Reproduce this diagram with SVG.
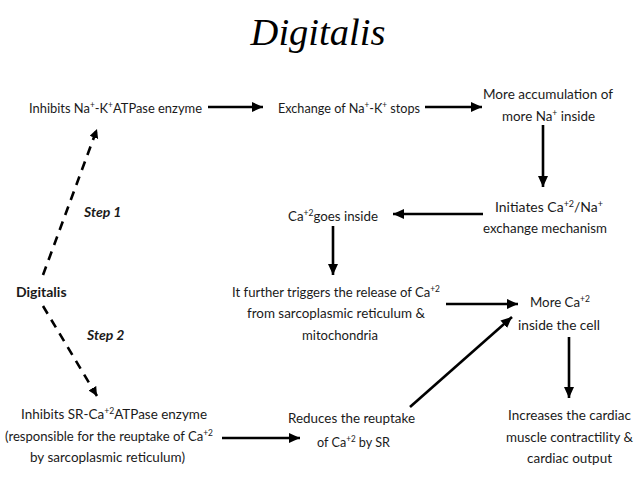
<svg xmlns="http://www.w3.org/2000/svg" width="638" height="479" viewBox="0 0 638 479">
<defs>
<style>
.t{font-family:Lato,"Open Sans","Liberation Sans",sans-serif;font-size:14px;fill:#1a1a1a}
.c{text-anchor:middle}
.s{font-size:9px}
.ln{stroke:#000;stroke-width:2.6;fill:none}
.ds{stroke:#000;stroke-width:2.6;fill:none;stroke-dasharray:9 7}
</style>
<marker id="ah" markerUnits="userSpaceOnUse" markerWidth="12" markerHeight="10" refX="11" refY="5" orient="auto"><path d="M0,0 L11,5 L0,10 Z" fill="#000"/></marker>
<marker id="ahs" markerUnits="userSpaceOnUse" markerWidth="10" markerHeight="10" refX="9" refY="4.5" orient="auto"><path d="M0,0 L9,4.5 L0,9 Z" fill="#000"/></marker>
</defs>
<rect width="638" height="479" fill="#fff"/>
<text x="318" y="45" text-anchor="middle" font-family="Liberation Serif,serif" font-style="italic" font-size="38.5" fill="#000">Digitalis</text>

<g id="connectors">
<path class="ln" d="M208,107 H263" marker-end="url(#ah)"/>
<path class="ln" d="M425,107 H482" marker-end="url(#ah)"/>
<path class="ln" d="M543,125 V187" marker-end="url(#ah)"/>
<path class="ln" d="M483,214 H393" marker-end="url(#ah)"/>
<path class="ln" d="M333,226 V275" marker-end="url(#ah)"/>
<path class="ln" d="M446,304 H518" marker-end="url(#ah)"/>
<path class="ln" d="M569,337 V398" marker-end="url(#ah)"/>
<path class="ln" d="M410,407 L512,317" marker-end="url(#ah)"/>
<path class="ln" d="M222,438 H300" marker-end="url(#ah)"/>
<path class="ds" d="M43,275 L97,129" marker-end="url(#ahs)"/>
<path class="ds" d="M43,306 L97,396" marker-end="url(#ahs)"/>
</g>

<g id="n-digitalis"><text x="16" y="297" class="t" font-weight="bold" font-size="17">Digitalis</text></g>
<g id="l-step1"><text x="84" y="217" class="t" font-weight="bold" font-style="italic" font-size="13">Step 1</text></g>
<g id="l-step2"><text x="87" y="340" class="t" font-weight="bold" font-style="italic" font-size="13">Step 2</text></g>

<g id="n-inhibits-nak"><text x="29" y="113" class="t" textLength="173" lengthAdjust="spacingAndGlyphs">Inhibits Na<tspan class="s" dy="-5">+</tspan><tspan dy="5">-K</tspan><tspan class="s" dy="-5">+</tspan><tspan dy="5">ATPase enzyme</tspan></text></g>
<g id="n-exchange"><text x="278" y="113" class="t" textLength="142" lengthAdjust="spacingAndGlyphs">Exchange of Na<tspan class="s" dy="-5">+</tspan><tspan dy="5">-K</tspan><tspan class="s" dy="-5">+</tspan><tspan dy="5"> stops</tspan></text></g>
<g id="n-accum">
<text x="548" y="99" class="t c" textLength="130" lengthAdjust="spacingAndGlyphs">More accumulation of</text>
<text x="548.5" y="121" class="t c" textLength="93" lengthAdjust="spacingAndGlyphs">more Na<tspan class="s" dy="-5">+</tspan><tspan dy="5"> inside</tspan></text>
</g>
<g id="n-initiates">
<text x="549" y="212" class="t c" textLength="108" lengthAdjust="spacingAndGlyphs">Initiates Ca<tspan class="s" dy="-5">+2</tspan><tspan dy="5">/Na</tspan><tspan class="s" dy="-5">+</tspan></text>
<text x="545" y="233" class="t c" textLength="124" lengthAdjust="spacingAndGlyphs">exchange mechanism</text>
</g>
<g id="n-ca-inside"><text x="333" y="221" class="t c" textLength="90" lengthAdjust="spacingAndGlyphs">Ca<tspan class="s" dy="-5">+2</tspan><tspan dy="5">goes inside</tspan></text></g>
<g id="n-triggers">
<text x="336" y="297" class="t c" textLength="208" lengthAdjust="spacingAndGlyphs">It further triggers the release of Ca<tspan class="s" dy="-5">+2</tspan></text>
<text x="336" y="318" class="t c" textLength="178" lengthAdjust="spacingAndGlyphs">from sarcoplasmic reticulum &amp;</text>
<text x="340" y="340" class="t c" textLength="76" lengthAdjust="spacingAndGlyphs">mitochondria</text>
</g>
<g id="n-more-ca">
<text x="560" y="307" class="t c" textLength="60" lengthAdjust="spacingAndGlyphs">More Ca<tspan class="s" dy="-5">+2</tspan></text>
<text x="559" y="330" class="t c" textLength="82" lengthAdjust="spacingAndGlyphs">inside the cell</text>
</g>
<g id="n-increases">
<text x="569.5" y="420" class="t c" textLength="123" lengthAdjust="spacingAndGlyphs">Increases the cardiac</text>
<text x="569.5" y="442" class="t c" textLength="127" lengthAdjust="spacingAndGlyphs">muscle contractility &amp;</text>
<text x="569.5" y="463" class="t c" textLength="85" lengthAdjust="spacingAndGlyphs">cardiac output</text>
</g>
<g id="n-reduces">
<text x="351.5" y="423" class="t c" textLength="127" lengthAdjust="spacingAndGlyphs">Reduces the reuptake</text>
<text x="353.5" y="447" class="t c" textLength="73" lengthAdjust="spacingAndGlyphs">of Ca<tspan class="s" dy="-5">+2</tspan><tspan dy="5"> by SR</tspan></text>
</g>
<g id="n-inhibits-sr">
<text x="114" y="419" class="t c" textLength="186" lengthAdjust="spacingAndGlyphs">Inhibits SR-Ca<tspan class="s" dy="-5">+2</tspan><tspan dy="5">ATPase enzyme</tspan></text>
<text x="109" y="441" class="t c" textLength="208" lengthAdjust="spacingAndGlyphs">(responsible for the reuptake of Ca<tspan class="s" dy="-5">+2</tspan></text>
<text x="107.5" y="462" class="t c" textLength="155" lengthAdjust="spacingAndGlyphs">by sarcoplasmic reticulum)</text>
</g>
</svg>
